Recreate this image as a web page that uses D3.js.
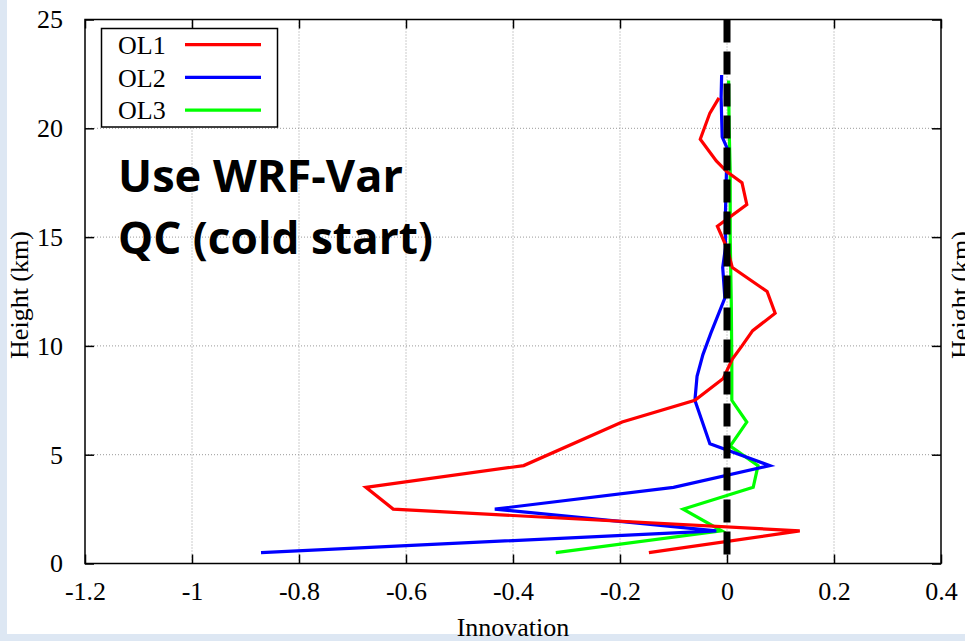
<html>
<head>
<meta charset='utf-8' />
<title>Innovation profile</title>
<script src="https://d3js.org/d3.v7.min.js"></script>
<style>
body { margin: 0; background: #fff; }
text { font-family: "Liberation Serif", "Times New Roman", serif; }
.grid line { stroke: #999; stroke-dasharray: 1,2; }
</style>
</head>
<body>
<script>

// data (height in km, innovation)
var xTicks = [-1.2, -1, -0.8, -0.6, -0.4, -0.2, 0, 0.2, 0.4];
var yTicks = [0, 5, 10, 15, 20, 25];
var seriesNames = ["OL1", "OL2", "OL3"];
var seriesColors = ["#ff0000", "#0000ff", "#00ff00"];

var ol1Height = [0.5, 1.5, 2.5, 3.5, 4.5, 6.5, 7.5, 8.5, 9.4, 10.0, 10.7, 11.5, 12.5, 13.6, 14.5, 15.5, 16.5, 17.5, 18.0, 18.5, 19.5, 20.7, 21.4];
var ol1Value  = [-0.146, 0.136, -0.624, -0.675, -0.38, -0.196, -0.06, -0.007, 0.01, 0.028, 0.048, 0.09, 0.075, 0.01, 0.0, -0.018, 0.037, 0.028, 0.0, -0.02, -0.05, -0.032, -0.015];

var ol2Height = [0.5, 1.5, 2.5, 3.5, 4.5, 5.5, 7.5, 8.6, 9.6, 10.6, 12.2, 13.6, 14.5, 16.0, 19.1, 19.6, 21.4, 22.45];
var ol2Value  = [-0.871, -0.02, -0.434, -0.1, 0.08, -0.032, -0.06, -0.056, -0.045, -0.03, -0.004, -0.008, -0.003, -0.003, 0.0, -0.009, -0.011, -0.01];

var ol3Height = [0.5, 1.5, 2.5, 3.5, 4.5, 5.4, 6.5, 7.5, 9.2, 12.0, 15.0, 18.0, 20.0, 22.2];
var ol3Value  = [-0.32, -0.01, -0.082, 0.049, 0.058, 0.006, 0.037, 0.009, 0.009, 0.008, 0.006, 0.006, 0.004, 0.003];

var zeroLine = [[0, 0.4], [0, 25]];

var margin = {top: 19.5, left: 85};
var width = 856, height = 544;

var base = d3.select("body").append("svg")
	.attr("width", 965)
	.attr("height", 641);

// slide background bits
base.append("rect").attr("x", 0).attr("y", 0).attr("width", 7).attr("height", 641).attr("fill", "#dde7f3");
base.append("rect").attr("x", 0).attr("y", 634).attr("width", 965).attr("height", 7).attr("fill", "#dde7f3");

var svg = base.append("g").attr("transform", "translate(" + margin.left + "," + margin.top + ")");

var xScale = d3.scaleLinear().domain([-1.2, 0.4]).range([0, width]);
var yScale = d3.scaleLinear().domain([0, 25]).range([height, 0]);

// grid
svg.append("g").attr("class", "grid")
	.selectAll("line").data(xTicks.slice(1, -1)).enter().append("line")
	.attr("x1", d => xScale(d)).attr("x2", d => xScale(d))
	.attr("y1", 0).attr("y2", height);
svg.append("g").attr("class", "grid")
	.selectAll("line").data(yTicks.slice(1, -1)).enter().append("line")
	.attr("y1", d => yScale(d)).attr("y2", d => yScale(d))
	.attr("x1", 0).attr("x2", width);

// axes, ticks pointing inwards on all four sides
function styleAxis(g) {
	g.select(".domain").remove();
	g.selectAll(".tick line").attr("stroke", "#000").attr("stroke-width", 1.5);
	g.selectAll("text").attr("font-size", "26px").attr("fill", "#000")
		.attr("font-family", "Liberation Serif, Times New Roman, serif");
}
svg.append("g").attr("transform", "translate(0," + height + ")")
	.call(d3.axisBottom(xScale).tickValues(xTicks).tickSize(-9).tickPadding(18).tickFormat(d3.format("")))
	.call(styleAxis);
svg.append("g")
	.call(d3.axisTop(xScale).tickValues(xTicks).tickSize(-9).tickFormat(""))
	.call(styleAxis);
svg.append("g")
	.call(d3.axisLeft(yScale).tickValues(yTicks).tickSize(-9).tickPadding(22))
	.call(styleAxis);
svg.append("g").attr("transform", "translate(" + width + ",0)")
	.call(d3.axisRight(yScale).tickValues(yTicks).tickSize(-9).tickFormat(""))
	.call(styleAxis);

// the x labels use an ascii hyphen like the original
svg.selectAll("text").each(function() {
	var t = d3.select(this);
	t.text(t.text().replace("\u2212", "-"));
});

svg.append("rect").attr("width", width).attr("height", height)
	.attr("fill", "none").attr("stroke", "#000").attr("stroke-width", 1.5);

// lines
var line = d3.line().x(d => xScale(d[1])).y(d => yScale(d[0]));
var series = [d3.zip(ol1Height, ol1Value), d3.zip(ol2Height, ol2Value), d3.zip(ol3Height, ol3Value)];

series.slice().reverse().forEach(function(s, i) {
	svg.append("path")
		.datum(s)
		.attr("fill", "none")
		.attr("stroke", seriesColors[2 - i])
		.attr("stroke-width", 3.2)
		.attr("stroke-linejoin", "miter")
		.attr("d", line);
});

svg.append("path")
	.datum(zeroLine.slice().reverse())
	.attr("fill", "none")
	.attr("stroke", "#000")
	.attr("stroke-width", 7)
	.attr("stroke-dasharray", "23,9")
	.attr("d", d3.line().x(d => xScale(d[0])).y(d => yScale(d[1])));

// legend
var legend = base.append("g");
legend.append("rect")
	.attr("x", 101.5).attr("y", 28.5).attr("width", 176).attr("height", 98.5)
	.attr("fill", "#fff").attr("stroke", "#000").attr("stroke-width", 1.5);
seriesNames.forEach(function(name, i) {
	legend.append("text")
		.attr("x", 118).attr("y", 54 + i * 32.5)
		.attr("font-size", "26px")
		.text(name);
	legend.append("line")
		.attr("x1", 185).attr("x2", 261)
		.attr("y1", 44.7 + i * 32.7).attr("y2", 44.7 + i * 32.7)
		.attr("stroke", seriesColors[i]).attr("stroke-width", 3.2);
});

// axis titles
base.append("text")
	.attr("x", 513).attr("y", 636)
	.attr("text-anchor", "middle")
	.attr("font-size", "26px")
	.text("Innovation");
base.append("text")
	.attr("transform", "translate(28,295) rotate(-90)")
	.attr("text-anchor", "middle")
	.attr("font-size", "26px")
	.text("Height (km)");
// next chart on the slide, cut off at the edge like in the original
base.append("text")
	.attr("transform", "translate(969,295) rotate(-90)")
	.attr("text-anchor", "middle")
	.attr("font-size", "26px")
	.text("Height (km)");

// slide annotation
var note = base.append("g")
	.attr("font-family", "Open Sans, sans-serif")
	.attr("font-weight", "bold")
	.attr("font-size", "45px");
note.append("text").attr("x", 118).attr("y", 192)
	.attr("textLength", 285).attr("lengthAdjust", "spacingAndGlyphs")
	.style("font-family", "Open Sans, sans-serif")
	.text("Use WRF-Var");
note.append("text").attr("x", 118).attr("y", 254)
	.attr("textLength", 315).attr("lengthAdjust", "spacingAndGlyphs")
	.style("font-family", "Open Sans, sans-serif")
	.text("QC (cold start)");

</script>
</body>
</html>
